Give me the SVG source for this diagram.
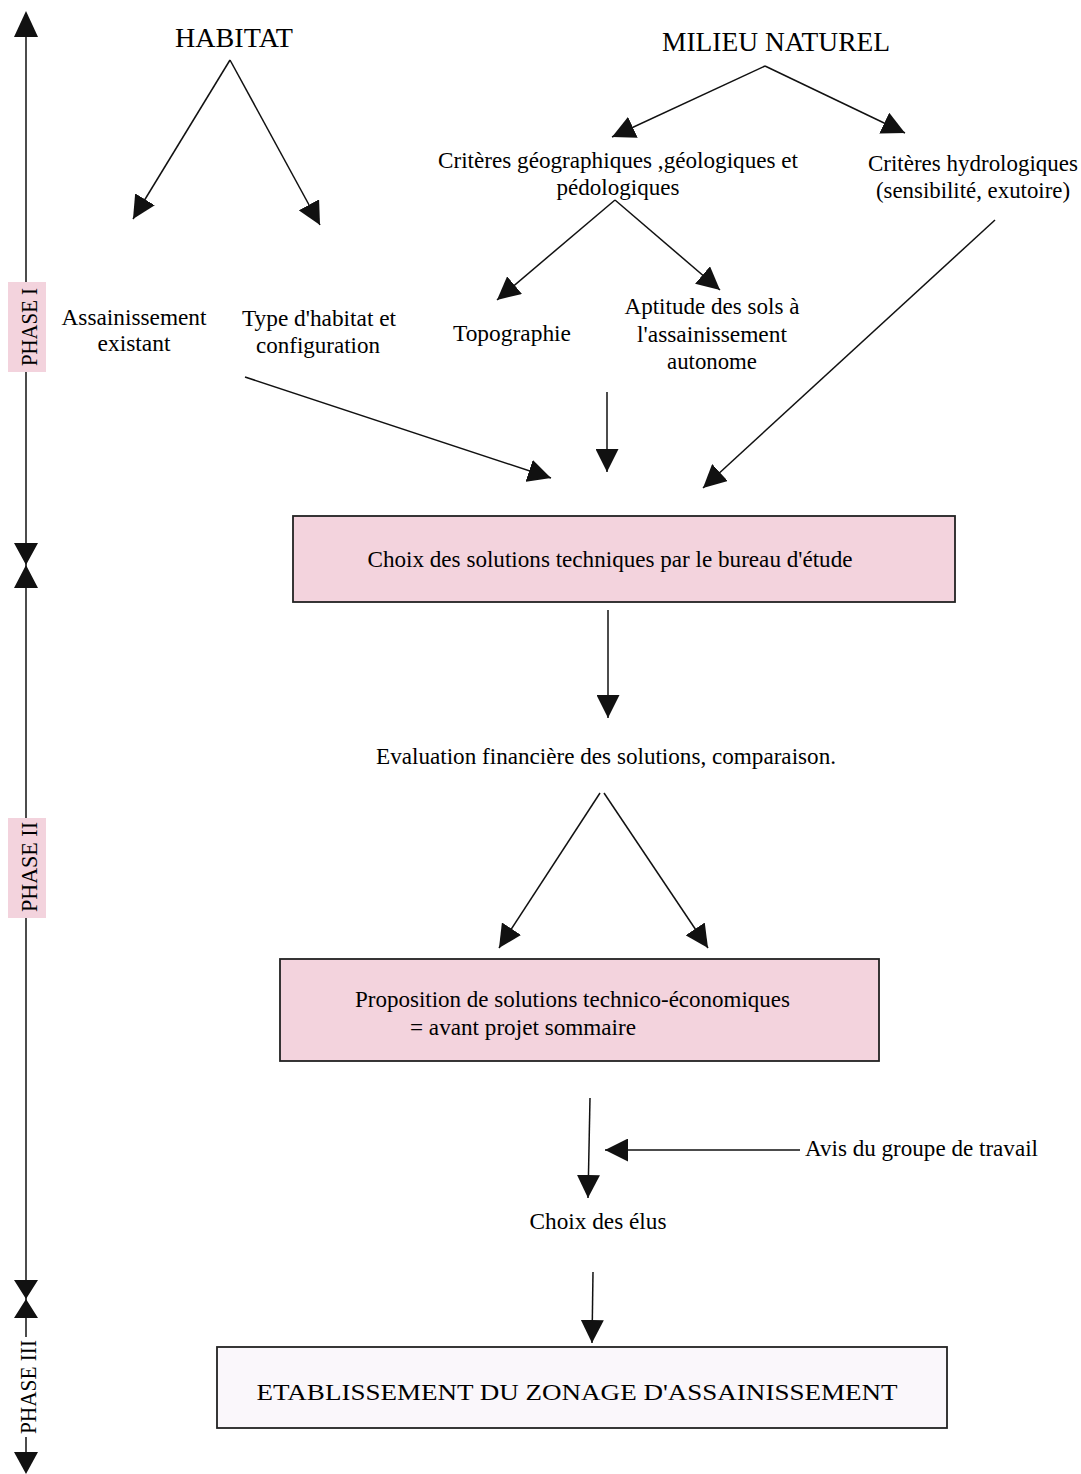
<svg xmlns="http://www.w3.org/2000/svg" width="1081" height="1474" viewBox="0 0 1081 1474">
<style>
text{font-family:"Liberation Serif","Times New Roman",serif;fill:#000;font-size:23px}
.c{text-anchor:middle}
.big{font-size:27px}
.ln{stroke:#111;stroke-width:1.5;fill:none}
.pink{fill:#f3d3dd;stroke:#222;stroke-width:1.8}
.tag{fill:#f3d3dd}
.tri{fill:#111}
</style>
<defs>
<marker id="ah" viewBox="0 0 22 22" refX="22" refY="11" markerWidth="23" markerHeight="23" markerUnits="userSpaceOnUse" orient="auto">
<path d="M0,0 L22,11 L0,22 Z" fill="#111"/>
</marker>
</defs>
<rect width="1081" height="1474" fill="#fff"/>

<g id="timeline">
<line class="ln" x1="26" y1="30" x2="26" y2="1460"/>
<path class="tri" d="M26,11 L38,37 L14,37 Z"/>
<path class="tri" d="M14,543 L38,543 L26,565 Z M14,588 L38,588 L26,565 Z"/>
<path class="tri" d="M14,1280 L38,1280 L26,1299 Z M14,1318 L38,1318 L26,1299 Z"/>
<path class="tri" d="M14,1452 L38,1452 L26,1474 Z"/>
<rect class="tag" x="8" y="282" width="38" height="90"/>
<text transform="translate(37,327) rotate(-90)" class="c" font-size="26" textLength="78" lengthAdjust="spacingAndGlyphs">PHASE I</text>
<rect class="tag" x="8" y="818" width="38" height="100"/>
<text transform="translate(37,867) rotate(-90)" class="c" font-size="26" textLength="90" lengthAdjust="spacingAndGlyphs">PHASE II</text>
<rect x="8" y="1337" width="38" height="100" fill="#fff"/>
<text transform="translate(36,1387) rotate(-90)" class="c" font-size="26" textLength="94" lengthAdjust="spacingAndGlyphs">PHASE III</text>
</g>

<g id="habitat"><text class="c big" x="234" y="47" textLength="118" lengthAdjust="spacingAndGlyphs">HABITAT</text></g>
<g id="milieu"><text class="c big" x="776" y="51" textLength="228" lengthAdjust="spacingAndGlyphs">MILIEU NATUREL</text></g>
<g id="assainissement-existant">
<text class="c" x="134" y="325" textLength="145" lengthAdjust="spacingAndGlyphs">Assainissement</text>
<text class="c" x="134" y="351" textLength="73" lengthAdjust="spacingAndGlyphs">existant</text>
</g>
<g id="type-habitat">
<text class="c" x="319" y="326" textLength="154" lengthAdjust="spacingAndGlyphs">Type d'habitat et</text>
<text class="c" x="318" y="353" textLength="124" lengthAdjust="spacingAndGlyphs">configuration</text>
</g>
<g id="criteres-geo">
<text class="c" x="618" y="168" textLength="360" lengthAdjust="spacingAndGlyphs">Critères géographiques ,géologiques et</text>
<text class="c" x="618" y="195" textLength="123" lengthAdjust="spacingAndGlyphs">pédologiques</text>
</g>
<g id="criteres-hydro">
<text class="c" x="973" y="171" textLength="210" lengthAdjust="spacingAndGlyphs">Critères hydrologiques</text>
<text class="c" x="973" y="198" textLength="194" lengthAdjust="spacingAndGlyphs">(sensibilité, exutoire)</text>
</g>
<g id="topographie"><text class="c" x="512" y="341" textLength="118" lengthAdjust="spacingAndGlyphs">Topographie</text></g>
<g id="aptitude">
<text class="c" x="712" y="314" textLength="175" lengthAdjust="spacingAndGlyphs">Aptitude des sols à</text>
<text class="c" x="712" y="342" textLength="150" lengthAdjust="spacingAndGlyphs">l'assainissement</text>
<text class="c" x="712" y="369" textLength="90" lengthAdjust="spacingAndGlyphs">autonome</text>
</g>
<g id="choix-bureau">
<rect class="pink" x="293" y="516" width="662" height="86"/>
<text class="c" x="610" y="567" textLength="485" lengthAdjust="spacingAndGlyphs">Choix des solutions techniques par le bureau d'étude</text>
</g>
<g id="evaluation"><text class="c" x="606" y="764" textLength="460" lengthAdjust="spacingAndGlyphs">Evaluation financière des solutions, comparaison.</text></g>
<g id="proposition">
<rect class="pink" x="280" y="959" width="599" height="102"/>
<text x="355" y="1007" textLength="435" lengthAdjust="spacingAndGlyphs">Proposition de solutions technico-économiques</text>
<text x="410" y="1035" textLength="226" lengthAdjust="spacingAndGlyphs">= avant projet sommaire</text>
</g>
<g id="avis"><text x="805" y="1156" textLength="233" lengthAdjust="spacingAndGlyphs">Avis du groupe de travail</text></g>
<g id="choix-elus"><text class="c" x="598" y="1229" textLength="137" lengthAdjust="spacingAndGlyphs">Choix des élus</text></g>
<g id="etablissement">
<rect x="217" y="1347" width="730" height="81" fill="#faf7fb" stroke="#222" stroke-width="1.8"/>
<text class="c" x="577" y="1400" font-size="28" textLength="641" lengthAdjust="spacingAndGlyphs">ETABLISSEMENT DU ZONAGE D'ASSAINISSEMENT</text>
</g>

<g id="connectors" class="ln" marker-end="url(#ah)">
<line x1="230" y1="60" x2="133" y2="219"/>
<line x1="230" y1="60" x2="320" y2="225"/>
<line x1="765" y1="66" x2="612" y2="137"/>
<line x1="765" y1="66" x2="905" y2="133"/>
<line x1="615" y1="200" x2="497" y2="300"/>
<line x1="615" y1="200" x2="720" y2="290"/>
<line x1="245" y1="377" x2="551" y2="478"/>
<line x1="607" y1="392" x2="607" y2="472"/>
<line x1="995" y1="220" x2="703" y2="488"/>
<line x1="608" y1="610" x2="608" y2="718"/>
<line x1="600" y1="793" x2="499" y2="948"/>
<line x1="604" y1="793" x2="708" y2="948"/>
<line x1="590" y1="1098" x2="588" y2="1198"/>
<line x1="800" y1="1150" x2="605" y2="1150"/>
<line x1="593" y1="1272" x2="592" y2="1343"/>
</g>
</svg>
